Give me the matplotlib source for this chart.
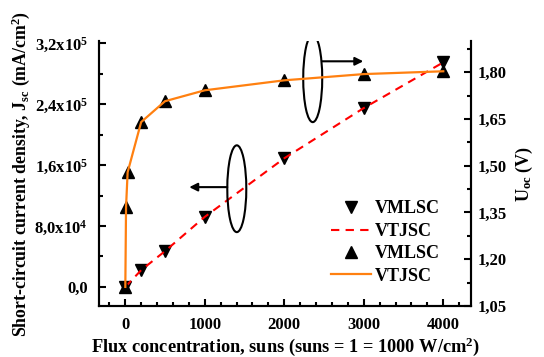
import matplotlib
matplotlib.use('Agg')
import matplotlib.pyplot as plt
from matplotlib.patches import Ellipse
from matplotlib.ticker import FixedLocator, MultipleLocator

# --- data ---
flux_jsc = [1, 200, 500, 1000, 2000, 3000, 4000]
jsc = [0, 2.2e4, 4.7e4, 9.2e4, 1.69e5, 2.35e5, 2.95e5]

flux_uoc = [1, 10, 30, 200, 500, 1000, 2000, 3000, 4000]
uoc = [1.111, 1.367, 1.479, 1.640, 1.707, 1.742, 1.774, 1.794, 1.803]

jsc_ticks = [0, 8e4, 1.6e5, 2.4e5, 3.2e5]
jsc_labels = ['0,0', '8,0x10$^4$', '1,6x10$^5$', '2,4x10$^5$', '3,2x10$^5$']
uoc_ticks = [1.05, 1.20, 1.35, 1.50, 1.65, 1.80]
uoc_labels = ['1,05', '1,20', '1,35', '1,50', '1,65', '1,80']
flux_ticks = [0, 1000, 2000, 3000, 4000]

plt.rcParams['font.family'] = ['Liberation Serif']
plt.rcParams['font.weight'] = 'bold'
plt.rcParams['axes.labelweight'] = 'bold'
plt.rcParams['mathtext.fontset'] = 'custom'
plt.rcParams['mathtext.default'] = 'rm'
plt.rcParams['mathtext.rm'] = 'Liberation Serif:bold'
plt.rcParams['mathtext.it'] = 'Liberation Serif:bold'
plt.rcParams['mathtext.bf'] = 'Liberation Serif:bold'

ORANGE = '#ff8010'

fig = plt.figure(figsize=(5.44, 3.57), dpi=100)
ax = fig.add_axes([0.182, 0.143, 0.684, 0.742])
ax2 = ax.twinx()

# Jsc (left axis)
ln1, = ax.plot(flux_jsc, jsc, ls='none', marker='v', ms=9, color='k',
               label='VMLSC', zorder=4)
ln2, = ax.plot(flux_jsc, jsc, ls=(0, (4, 3)), lw=1.5, color='#ff0000',
               label='VTJSC', zorder=5)
# Uoc (right axis)
ln3, = ax2.plot(flux_uoc, uoc, ls='none', marker='^', ms=9, color='k',
                label='VMLSC', zorder=4)
ln4, = ax2.plot(flux_uoc, uoc, lw=1.6, color=ORANGE, label='VTJSC', zorder=5)

ax.set_xlim(-330, 4350)
ax.set_ylim(-2.5e4, 3.23e5)
ax2.set_ylim(1.05, 1.90)

ax.xaxis.set_major_locator(FixedLocator(flux_ticks))
ax.xaxis.set_minor_locator(MultipleLocator(200))
ax.yaxis.set_major_locator(FixedLocator(jsc_ticks))
ax.set_yticklabels(jsc_labels)
ax.yaxis.set_minor_locator(MultipleLocator(4e4))
ax2.yaxis.set_major_locator(FixedLocator(uoc_ticks))
ax2.set_yticklabels(uoc_labels)
ax2.yaxis.set_minor_locator(MultipleLocator(0.075))

for a in (ax, ax2):
    a.spines['top'].set_visible(False)
    for s in a.spines.values():
        s.set_linewidth(1.5)
    a.tick_params(which='both', direction='in', width=1.5, labelsize=12)
    a.tick_params(which='major', length=5)
    a.tick_params(which='minor', length=3)
ax.tick_params(axis='x', which='both', top=False, pad=8)
ax.tick_params(axis='y', pad=8)
ax2.tick_params(axis='y', pad=5)

ax.set_xlabel('Flux concentration, suns (suns = 1 = 1000 W/cm$^2$)',
              fontsize=13.2, labelpad=2)
ax.set_ylabel('Short-circuit current density, J$_{sc}$ (mA/cm$^2$)',
              fontsize=12.8, labelpad=2)
ax2.set_ylabel('U$_{oc}$ (V)', fontsize=13, labelpad=5)

# ellipse + arrow markers pointing to the relevant axis
ax.add_patch(Ellipse((2358, 2.74e5), 239, 1.15e5, fill=False, lw=1.5,
                     color='k', zorder=6))
ax.annotate('', xy=(2994, 2.964e5), xytext=(2478, 2.964e5),
            arrowprops=dict(arrowstyle='-|>', color='k', lw=1.5,
                            mutation_scale=12, shrinkA=0, shrinkB=0))
ax.add_patch(Ellipse((1403, 1.29e5), 239, 1.14e5, fill=False, lw=1.5,
                     color='k', zorder=6))
ax.annotate('', xy=(805, 1.311e5), xytext=(1283, 1.311e5),
            arrowprops=dict(arrowstyle='-|>', color='k', lw=1.5,
                            mutation_scale=12, shrinkA=0, shrinkB=0))

ax2.legend([ln1, ln2, ln3, ln4], [l.get_label() for l in (ln1, ln2, ln3, ln4)],
           loc='upper left', bbox_to_anchor=(0.585, 0.474),
           bbox_transform=fig.transFigure, frameon=False, fontsize=13,
           handlelength=2.2, handletextpad=0.25, labelspacing=0.3,
           borderpad=0.2)

fig.savefig('out.png', dpi=100)
